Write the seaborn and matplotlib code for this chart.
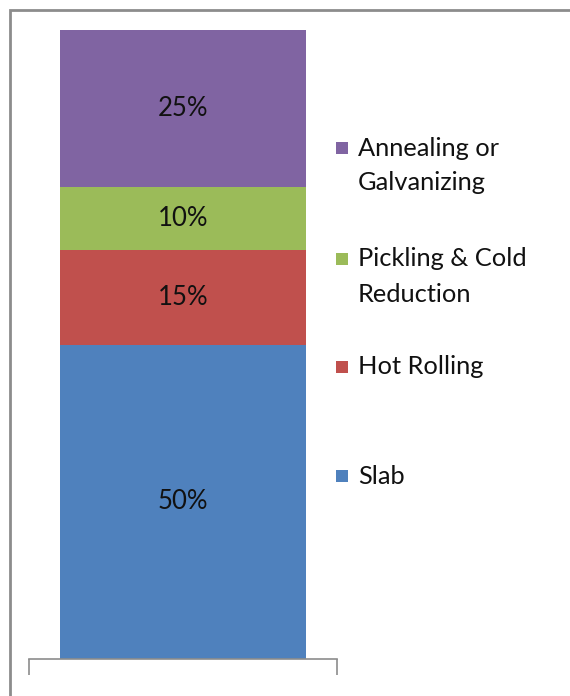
import matplotlib
matplotlib.use("Agg")
import matplotlib.pyplot as plt
import matplotlib.patches as mpatches
import seaborn as sns
import pandas as pd

sns.set_theme(style="white")
plt.rcParams['font.family'] = ['Lato', 'DejaVu Sans']

categories = ["Slab", "Hot Rolling", "Pickling & Cold\nReduction", "Annealing or\nGalvanizing"]
shares = [0.50, 0.15, 0.10, 0.25]
labels = ["50%", "15%", "10%", "25%"]
colors = ["#4F81BD", "#C0504D", "#9BBB59", "#8064A2"]

df = pd.DataFrame({"group": [""] * 4, "stage": categories, "share": shares})

W, H = 570, 696
fig = plt.figure(figsize=(W / 100, H / 100), dpi=100)
ax = fig.add_axes([29 / W, 1 - 659 / H, 308 / W, 629 / H])

bottom = 0.0
for cat, val, lab, col in zip(categories, shares, labels, colors):
    sub = df[df["stage"] == cat]
    sns.barplot(data=sub, x="group", y="share", color=col, width=0.8,
                bottom=bottom, ax=ax, saturation=1, linewidth=0,
                err_kws={"linewidth": 0})
    ax.text(0, bottom + val / 2, lab, ha="center", va="center",
            fontsize=18.5, color="#111111")
    bottom += val

ax.set_xlim(-0.5, 0.5)
ax.set_ylim(0, 1.0)
ax.set_xlabel("")
ax.set_ylabel("")
ax.set_yticks([])
ax.set_xticks([-0.5, 0.5])
ax.set_xticklabels([])
ax.tick_params(axis="x", bottom=True, length=11.5, width=1.2, color="#8c8c8c", direction="out")
for s in ["top", "right", "left"]:
    ax.spines[s].set_visible(False)
ax.spines["bottom"].set_color("#8c8c8c")
ax.spines["bottom"].set_linewidth(1.2)
ax.patch.set_alpha(0)

# outer chart frame (only top and left edges visible in the crop)
frame = mpatches.Rectangle((10.5 / W, -0.05), 1.2, 1 - 10 / H + 0.05,
                           transform=fig.transFigure, fill=False,
                           edgecolor="#8c8c8c", linewidth=2, clip_on=False)
fig.add_artist(frame)

# legend (top-aligned squares like the original)
entries = [(3, 148), (2, 259), (1, 367), (0, 476)]
for idx, yc in entries:
    sq = 12
    fig.add_artist(mpatches.Rectangle((336 / W, 1 - (yc + sq / 2) / H), sq / W, sq / H,
                                      transform=fig.transFigure,
                                      facecolor=colors[idx], edgecolor="none"))
    lines = categories[idx].split("\n")
    for k, line in enumerate(lines):
        fig.text(358 / W, 1 - (yc + 35 * k) / H, line, ha="left", va="center",
                 fontsize=18.3, color="#111111")

fig.savefig("out.png", dpi=100)
